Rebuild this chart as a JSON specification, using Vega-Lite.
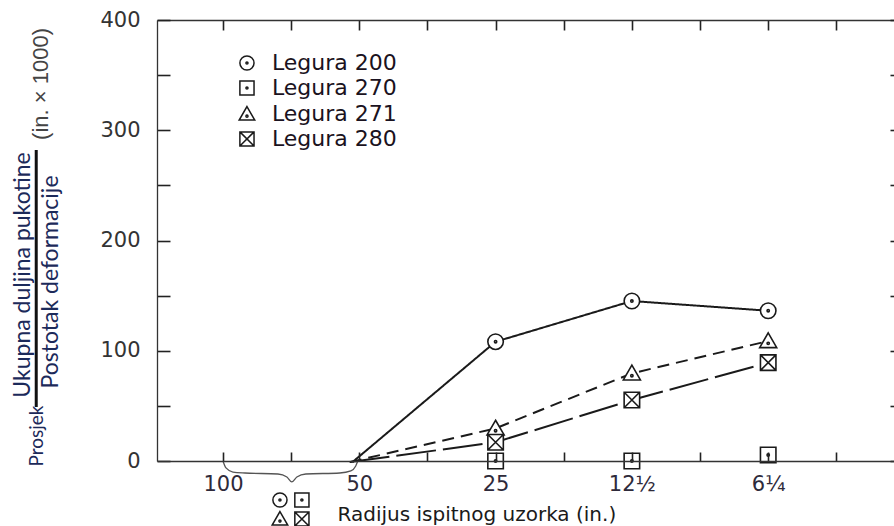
{
  "$schema": "https://vega.github.io/schema/vega-lite/v6.json",
  "width": 743,
  "height": 441,
  "autosize": {"type": "none"},
  "padding": {"left": 157, "top": 20, "right": 0, "bottom": 65},
  "background": "white",
  "config": {"view": {"stroke": null}},
  "datasets": {
    "lines": [
      {"series": "Legura 200", "idx": 0.95, "value": -1},
      {"series": "Legura 200", "idx": 2, "value": 108.2},
      {"series": "Legura 200", "idx": 3, "value": 145.1},
      {"series": "Legura 200", "idx": 4, "value": 136.3},
      {"series": "Legura 271", "idx": 0.93, "value": -1},
      {"series": "Legura 271", "idx": 2, "value": 29.6},
      {"series": "Legura 271", "idx": 3, "value": 79.5},
      {"series": "Legura 271", "idx": 4, "value": 108.8},
      {"series": "Legura 280", "idx": 0.93, "value": -1},
      {"series": "Legura 280", "idx": 2, "value": 17},
      {"series": "Legura 280", "idx": 3, "value": 55.3},
      {"series": "Legura 280", "idx": 4, "value": 89.2}
    ],
    "markers": [
      {"series": "Legura 200", "idx": 2, "value": 108.2},
      {"series": "Legura 200", "idx": 3, "value": 145.1},
      {"series": "Legura 200", "idx": 4, "value": 136.3},
      {"series": "Legura 270", "idx": 2, "value": 0},
      {"series": "Legura 270", "idx": 3, "value": 0},
      {"series": "Legura 270", "idx": 4, "value": 5.4},
      {"series": "Legura 271", "idx": 2, "value": 29.6},
      {"series": "Legura 271", "idx": 3, "value": 79.5},
      {"series": "Legura 271", "idx": 4, "value": 108.8},
      {"series": "Legura 280", "idx": 2, "value": 17},
      {"series": "Legura 280", "idx": 3, "value": 55.3},
      {"series": "Legura 280", "idx": 4, "value": 89.2}
    ],
    "legendrows": [
      {"series": "Legura 200", "idx": 0.176, "value": 361},
      {"series": "Legura 270", "idx": 0.176, "value": 338.3},
      {"series": "Legura 271", "idx": 0.176, "value": 314.7},
      {"series": "Legura 280", "idx": 0.176, "value": 292.1}
    ],
    "brace": [
      {"i": 0, "idx": 0, "value": 0},
      {"i": 1, "idx": 0.022, "value": -6.3},
      {"i": 2, "idx": 0.073, "value": -10},
      {"i": 3, "idx": 0.161, "value": -10.9},
      {"i": 4, "idx": 0.403, "value": -11.8},
      {"i": 5, "idx": 0.469, "value": -14.5},
      {"i": 6, "idx": 0.505, "value": -19},
      {"i": 7, "idx": 0.542, "value": -14.5},
      {"i": 8, "idx": 0.608, "value": -11.8},
      {"i": 9, "idx": 0.857, "value": -10.9},
      {"i": 10, "idx": 0.938, "value": -9},
      {"i": 11, "idx": 0.974, "value": -4.5},
      {"i": 12, "idx": 0.989, "value": 0}
    ],
    "keysyms": [
      {"series": "Legura 200", "idx": 0.418, "value": -35.4},
      {"series": "Legura 270", "idx": 0.579, "value": -35.4},
      {"series": "Legura 271", "idx": 0.418, "value": -52.6},
      {"series": "Legura 280", "idx": 0.579, "value": -52.6}
    ],
    "ytitle": [
      {"t": "Ukupna duljina pukotine", "idx": -1.465, "value": 168.7},
      {"t": "Postotak deformacije", "idx": -1.26, "value": 162.4}
    ],
    "yprosjek": [{"t": "Prosjek", "idx": -1.363, "value": 22.7}],
    "yunit": [{"t": "(in. × 1000)", "idx": -1.333, "value": 342}],
    "ybar": [{"idx": -1.37, "value": 49, "value2": 282}]
  },
  "resolve": {"axis": {"x": "independent", "y": "independent"}},
  "layer": [
    {
      "data": {"name": "brace"},
      "mark": {"type": "line", "interpolate": "monotone", "stroke": "#555", "strokeWidth": 1.3},
      "encoding": {
        "x": {
          "field": "idx", "type": "quantitative",
          "scale": {"domain": [-0.484, 4.967], "nice": false, "zero": false},
          "axis": {
            "orient": "bottom",
            "values": [0, 0.5, 1, 1.5, 2, 2.5, 3, 3.5, 4, 4.5],
            "labelExpr": "datum.value==0?'100':datum.value==1?'50':datum.value==2?'25':datum.value==3?'12½':datum.value==4?'6¼':''",
            "tickSize": -9, "tickColor": "#222", "tickWidth": 1.6,
            "domainColor": "#333", "domainWidth": 1.3,
            "labelPadding": 21, "labelFont": "DejaVu Sans", "labelFontSize": 21,
            "labelColor": "#2e2a3a", "labelFlush": false, "labelOverlap": false,
            "grid": false, "zindex": 1,
            "title": "Radijus ispitnog uzorka (in.)",
            "titleFont": "DejaVu Sans", "titleFontSize": 20, "titleFontWeight": "normal",
            "titleColor": "#1a1a1a", "titleAnchor": "start", "titleAlign": "left",
            "titleX": 180, "titleY": 59, "titleBaseline": "alphabetic"
          }
        },
        "y": {
          "field": "value", "type": "quantitative",
          "scale": {"domain": [0, 400], "nice": false, "zero": false},
          "axis": {
            "orient": "left",
            "values": [0, 50, 100, 150, 200, 250, 300, 350, 400],
            "labelExpr": "datum.value % 100 == 0 ? datum.label : ''",
            "tickSize": -13, "tickColor": "#222", "tickWidth": 1.6,
            "domainColor": "#333", "domainWidth": 1.3,
            "labelPadding": 30, "labelFont": "DejaVu Sans", "labelFontSize": 21,
            "labelColor": "#333", "labelOverlap": false,
            "grid": false, "title": null
          }
        },
        "order": {"field": "i", "type": "quantitative"}
      }
    },
    {
      "data": {"name": "lines"},
      "mark": {"type": "line", "stroke": "#1a1a1a", "strokeWidth": 2},
      "encoding": {
        "x": {
          "field": "idx", "type": "quantitative",
          "scale": {"domain": [-0.484, 4.967], "nice": false, "zero": false},
          "axis": {
            "orient": "top",
            "values": [0, 0.5, 1, 1.5, 2, 2.5, 3, 3.5, 4, 4.5],
            "labels": false, "tickSize": -10, "tickColor": "#222", "tickWidth": 1.6,
            "domainColor": "#333", "domainWidth": 1.3, "grid": false, "title": null
          }
        },
        "y": {
          "field": "value", "type": "quantitative",
          "scale": {"domain": [0, 400], "nice": false, "zero": false},
          "axis": {
            "orient": "right",
            "values": [0, 50, 100, 150, 200, 250, 300, 350, 400],
            "labels": false, "tickSize": -10, "tickColor": "#222", "tickWidth": 1.6,
            "domainColor": "#333", "domainWidth": 1.3, "grid": false, "title": null
          }
        },
        "detail": {"field": "series", "type": "nominal"},
        "strokeDash": {
          "field": "series", "type": "nominal",
          "scale": {"domain": ["Legura 200", "Legura 271", "Legura 280"], "range": [[1, 0], [12, 7], [40, 7]]},
          "legend": null
        }
      }
    },
    {
      "data": {"name": "markers"},
      "mark": {"type": "point", "filled": true, "fill": "white", "stroke": "#1a1a1a", "strokeWidth": 1.6, "size": 240, "opacity": 1},
      "encoding": {
        "x": {"field": "idx", "type": "quantitative", "scale": {"domain": [-0.484, 4.967], "nice": false, "zero": false}, "axis": null},
        "y": {"field": "value", "type": "quantitative", "scale": {"domain": [0, 400], "nice": false, "zero": false}, "axis": null},
        "shape": {
          "field": "series", "type": "nominal",
          "scale": {
            "domain": ["Legura 200", "Legura 270", "Legura 271", "Legura 280"],
            "range": [
              "M-1,0A1,1,0,1,0,1,0A1,1,0,1,0,-1,0ZM-0.15,0A0.15,0.15,0,1,0,0.15,0A0.15,0.15,0,1,0,-0.15,0Z",
              "M-1,-1H1V1H-1ZM-0.15,0A0.15,0.15,0,1,0,0.15,0A0.15,0.15,0,1,0,-0.15,0Z",
              "M0,-1.05L1.1,0.85H-1.1ZM-0.15,0.3A0.15,0.15,0,1,0,0.15,0.3A0.15,0.15,0,1,0,-0.15,0.3Z",
              "M-1,-1H1V1H-1ZM-1,-1L1,1M1,-1L-1,1"
            ]
          },
          "legend": null
        }
      }
    },
    {
      "data": {"name": "keysyms"},
      "mark": {"type": "point", "filled": true, "fill": "white", "stroke": "#1a1a1a", "strokeWidth": 1.5, "size": 200, "opacity": 1},
      "encoding": {
        "x": {"field": "idx", "type": "quantitative", "scale": {"domain": [-0.484, 4.967], "nice": false, "zero": false}, "axis": null},
        "y": {"field": "value", "type": "quantitative", "scale": {"domain": [0, 400], "nice": false, "zero": false}, "axis": null},
        "shape": {"field": "series", "type": "nominal", "legend": null}
      }
    },
    {
      "data": {"name": "legendrows"},
      "mark": {"type": "point", "filled": true, "fill": "white", "stroke": "#1a1a1a", "strokeWidth": 1.5, "size": 200, "opacity": 1},
      "encoding": {
        "x": {"field": "idx", "type": "quantitative", "scale": {"domain": [-0.484, 4.967], "nice": false, "zero": false}, "axis": null},
        "y": {"field": "value", "type": "quantitative", "scale": {"domain": [0, 400], "nice": false, "zero": false}, "axis": null},
        "shape": {"field": "series", "type": "nominal", "legend": null}
      }
    },
    {
      "data": {"name": "legendrows"},
      "mark": {"type": "text", "align": "left", "baseline": "middle", "dx": 25, "font": "DejaVu Sans", "fontSize": 22, "color": "#1a1220"},
      "encoding": {
        "x": {"field": "idx", "type": "quantitative", "scale": {"domain": [-0.484, 4.967], "nice": false, "zero": false}, "axis": null},
        "y": {"field": "value", "type": "quantitative", "scale": {"domain": [0, 400], "nice": false, "zero": false}, "axis": null},
        "text": {"field": "series", "type": "nominal"}
      }
    },
    {
      "data": {"name": "ytitle"},
      "mark": {"type": "text", "angle": 270, "align": "center", "baseline": "middle", "font": "Lato", "fontSize": 23, "color": "#1c2a5a"},
      "encoding": {
        "x": {"field": "idx", "type": "quantitative", "scale": {"domain": [-0.484, 4.967], "nice": false, "zero": false}, "axis": null},
        "y": {"field": "value", "type": "quantitative", "scale": {"domain": [0, 400], "nice": false, "zero": false}, "axis": null},
        "text": {"field": "t", "type": "nominal"}
      }
    },
    {
      "data": {"name": "yprosjek"},
      "mark": {"type": "text", "angle": 270, "align": "center", "baseline": "middle", "font": "Lato", "fontSize": 19, "color": "#1c2a5a"},
      "encoding": {
        "x": {"field": "idx", "type": "quantitative", "scale": {"domain": [-0.484, 4.967], "nice": false, "zero": false}, "axis": null},
        "y": {"field": "value", "type": "quantitative", "scale": {"domain": [0, 400], "nice": false, "zero": false}, "axis": null},
        "text": {"field": "t", "type": "nominal"}
      }
    },
    {
      "data": {"name": "yunit"},
      "mark": {"type": "text", "angle": 270, "align": "center", "baseline": "middle", "font": "Liberation Sans", "fontSize": 22, "color": "#444"},
      "encoding": {
        "x": {"field": "idx", "type": "quantitative", "scale": {"domain": [-0.484, 4.967], "nice": false, "zero": false}, "axis": null},
        "y": {"field": "value", "type": "quantitative", "scale": {"domain": [0, 400], "nice": false, "zero": false}, "axis": null},
        "text": {"field": "t", "type": "nominal"}
      }
    },
    {
      "data": {"name": "ybar"},
      "mark": {"type": "rule", "stroke": "#111", "strokeWidth": 3},
      "encoding": {
        "x": {"field": "idx", "type": "quantitative", "scale": {"domain": [-0.484, 4.967], "nice": false, "zero": false}, "axis": null},
        "y": {"field": "value", "type": "quantitative", "scale": {"domain": [0, 400], "nice": false, "zero": false}, "axis": null},
        "y2": {"field": "value2"}
      }
    }
  ]
}
